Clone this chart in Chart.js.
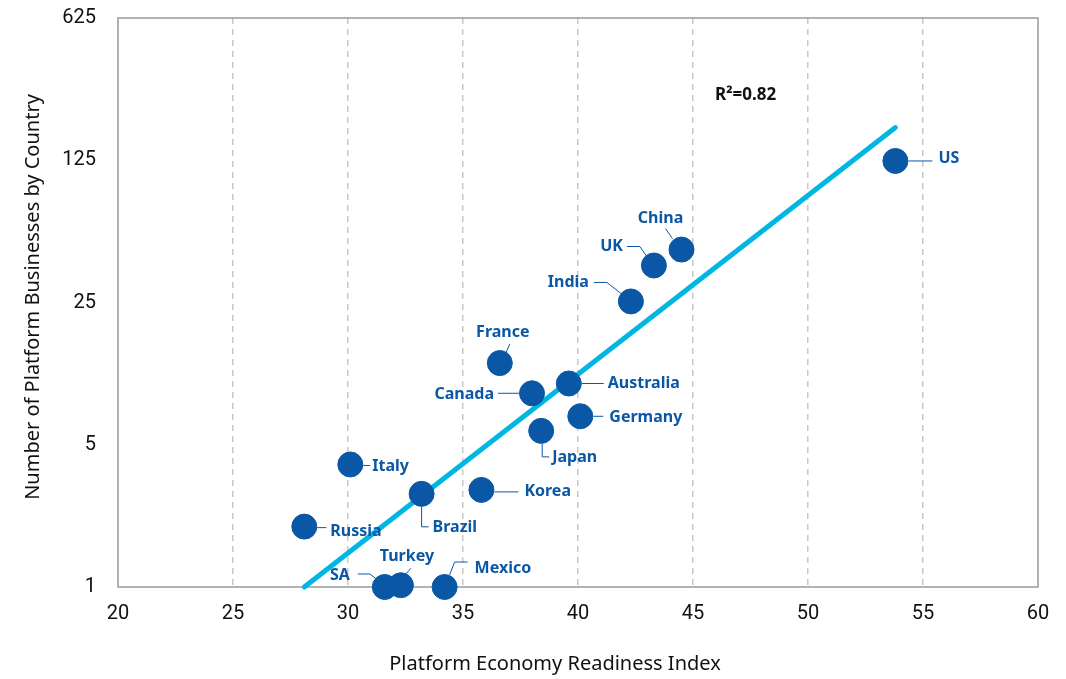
<!DOCTYPE html>
<html>
<head>
<meta charset="utf-8">
<script src="https://cdn.jsdelivr.net/npm/chart.js@4.4.1/dist/chart.umd.min.js"></script>
<style>
  html, body { margin: 0; padding: 0; background: #fff; }
  #wrap { width: 1066px; height: 679px; }
</style>
</head>
<body>
<div id="wrap"><canvas id="chart"></canvas></div>
<script>
// Datos
const countries = ['US', 'China', 'UK', 'India', 'France', 'Australia', 'Canada', 'Germany',
                   'Japan', 'Italy', 'Korea', 'Brazil', 'Russia', 'Turkey', 'SA', 'Mexico'];
const readiness = [53.8, 44.5, 43.3, 42.3, 36.6, 39.6, 38.0, 40.1, 38.4, 30.1, 35.8, 33.2, 28.1, 32.3, 31.6, 34.2];
const platforms = [124, 45.5, 38, 25.3, 12.6, 10, 8.95, 6.9, 5.85, 4.0, 3.0, 2.87, 1.98, 1.02, 1, 1];

const trendX = [28.1, 53.8];
const trendY = [1, 181];
const rSquared = 'R²=0.82';

const xTicks = [20, 25, 30, 35, 40, 45, 50, 55, 60];
const yTicks = [1, 5, 25, 125, 625];

const xTitle = 'Platform Economy Readiness Index';
const yTitle = 'Number of Platform Businesses by Country';

// Posición de las etiquetas respecto al punto (px): texto, alineación, línea guía
const labelLayout = {
  US:        { dx: 43,  dy: -3,  align: 'left',   leader: [[13, 0], [37, 0]] },
  China:     { dx: -21, dy: -31, align: 'center', leader: [[-9, -11], [-16, -21]] },
  UK:        { dx: -31, dy: -19, align: 'right',  leader: [[-7, -9], [-14, -19], [-27, -19]] },
  India:     { dx: -42, dy: -19, align: 'right',  leader: [[-10, -8], [-24, -19], [-37, -19]] },
  France:    { dx: 3,   dy: -31, align: 'center', leader: [[6, -10], [10, -19]] },
  Australia: { dx: 39,  dy: 0,   align: 'left',   leader: [[13, 0], [35, 0]] },
  Canada:    { dx: -38, dy: 1,   align: 'right',  leader: [[-13, 0], [-34, 0]] },
  Germany:   { dx: 29,  dy: 1,   align: 'left',   leader: [[13, 0], [23, 0]] },
  Japan:     { dx: 11,  dy: 27,  align: 'left',   leader: [[1, 13], [1, 26], [8, 26]] },
  Italy:     { dx: 22,  dy: 2,   align: 'left',   leader: [[13, 1], [20, 1]] },
  Korea:     { dx: 43,  dy: 2,   align: 'left',   leader: [[13, 2], [37, 2]] },
  Brazil:    { dx: 11,  dy: 34,  align: 'left',   leader: [[0, 13], [0, 33], [7, 33]] },
  Russia:    { dx: 26,  dy: 5,   align: 'left',   leader: [[13, 1], [22, 1]] },
  Turkey:    { dx: 6,   dy: -29, align: 'center', leader: [[3, -9], [10, -17]] },
  SA:        { dx: -35, dy: -12, align: 'right',  leader: [[-7, -7], [-15, -13], [-27, -13]] },
  Mexico:    { dx: 30,  dy: -19, align: 'left',   leader: [[5, -12], [10, -25], [23, -25]] }
};

const BLUE = '#0a58a5';
const CYAN = '#00b6e3';

// Marco completo del área del gráfico
const frameBox = {
  id: 'frameBox',
  beforeDatasetsDraw(chart) {
    const { ctx, chartArea: a } = chart;
    ctx.save();
    ctx.strokeStyle = '#9a9a9a';
    ctx.lineWidth = 1.5;
    ctx.strokeRect(a.left, a.top, a.right - a.left, a.bottom - a.top);
    ctx.restore();
  }
};

// Títulos de los ejes (el del eje x va algo desplazado a la izquierda)
const axisTitles = {
  id: 'axisTitles',
  afterDraw(chart) {
    const { ctx, chartArea: a } = chart;
    ctx.save();
    ctx.fillStyle = '#111';
    ctx.font = '20px "Noto Sans", sans-serif';
    ctx.textAlign = 'center';
    ctx.textBaseline = 'middle';
    ctx.fillText(xTitle, a.left + 437, 664);
    ctx.translate(33, a.top + 279);
    ctx.rotate(-Math.PI / 2);
    ctx.fillText(yTitle, 0, 0);
    ctx.restore();
  }
};

// Etiquetas de países y R²
const countryLabels = {
  id: 'countryLabels',
  afterDatasetsDraw(chart) {
    const { ctx, chartArea: a } = chart;
    const meta = chart.getDatasetMeta(1);
    ctx.save();
    ctx.font = 'bold 16px "Noto Sans", sans-serif';
    ctx.textBaseline = 'middle';
    meta.data.forEach((pt, i) => {
      const name = countries[i];
      const l = labelLayout[name];
      ctx.strokeStyle = BLUE;
      ctx.lineWidth = 1;
      ctx.beginPath();
      l.leader.forEach(([dx, dy], j) => {
        if (j === 0) ctx.moveTo(pt.x + dx, pt.y + dy);
        else ctx.lineTo(pt.x + dx, pt.y + dy);
      });
      ctx.stroke();
      ctx.fillStyle = BLUE;
      ctx.textAlign = l.align;
      ctx.fillText(name, pt.x + l.dx, pt.y + l.dy);
    });
    ctx.fillStyle = '#111';
    ctx.textAlign = 'left';
    ctx.font = 'bold 17px "Noto Sans", sans-serif';
    ctx.fillText(rSquared, a.left + 597, a.top + 77);
    ctx.restore();
  }
};

new Chart(document.getElementById('chart'), {
  type: 'scatter',
  data: {
    datasets: [
      {
        type: 'line',
        data: trendX.map((x, i) => ({ x: x, y: trendY[i] })),
        borderColor: CYAN,
        borderWidth: 5,
        borderCapStyle: 'round',
        pointRadius: 0,
        fill: false,
        order: 2
      },
      {
        data: readiness.map((x, i) => ({ x: x, y: platforms[i] })),
        backgroundColor: BLUE,
        borderColor: BLUE,
        pointRadius: 12.5,
        pointHoverRadius: 12.5,
        order: 1
      }
    ]
  },
  options: {
    responsive: true,
    maintainAspectRatio: false,
    animation: false,
    clip: false,
    layout: { padding: { top: 18, right: 28, left: 0, bottom: 0 } },
    plugins: {
      legend: { display: false },
      tooltip: { enabled: false }
    },
    scales: {
      x: {
        type: 'linear',
        min: 20,
        max: 60,
        afterBuildTicks: (scale) => { scale.ticks = xTicks.map(v => ({ value: v })); },
        afterFit: (scale) => { scale.height = 92; scale.paddingLeft = 0; scale.paddingRight = 0; },
        grid: {
          drawTicks: false,
          color: (c) => (c.tick && (c.tick.value === 20 || c.tick.value === 60)) ? 'transparent' : '#c8c8c8',
          lineWidth: 1.5
        },
        border: { display: false, dash: [6, 5] },
        ticks: {
          padding: 15,
          color: '#111',
          font: { family: 'Roboto', size: 20 }
        }
      },
      y: {
        type: 'logarithmic',
        min: 1,
        max: 625,
        afterBuildTicks: (scale) => { scale.ticks = yTicks.map(v => ({ value: v })); },
        afterFit: (scale) => { scale.width = 118; scale.paddingTop = 0; scale.paddingBottom = 0; },
        grid: { display: false, drawTicks: false },
        border: { display: false },
        ticks: {
          padding: 22,
          color: '#111',
          font: { family: 'Roboto', size: 20 },
          callback: (v) => String(v)
        }
      }
    }
  },
  plugins: [frameBox, axisTitles, countryLabels]
});
</script>
</body>
</html>
